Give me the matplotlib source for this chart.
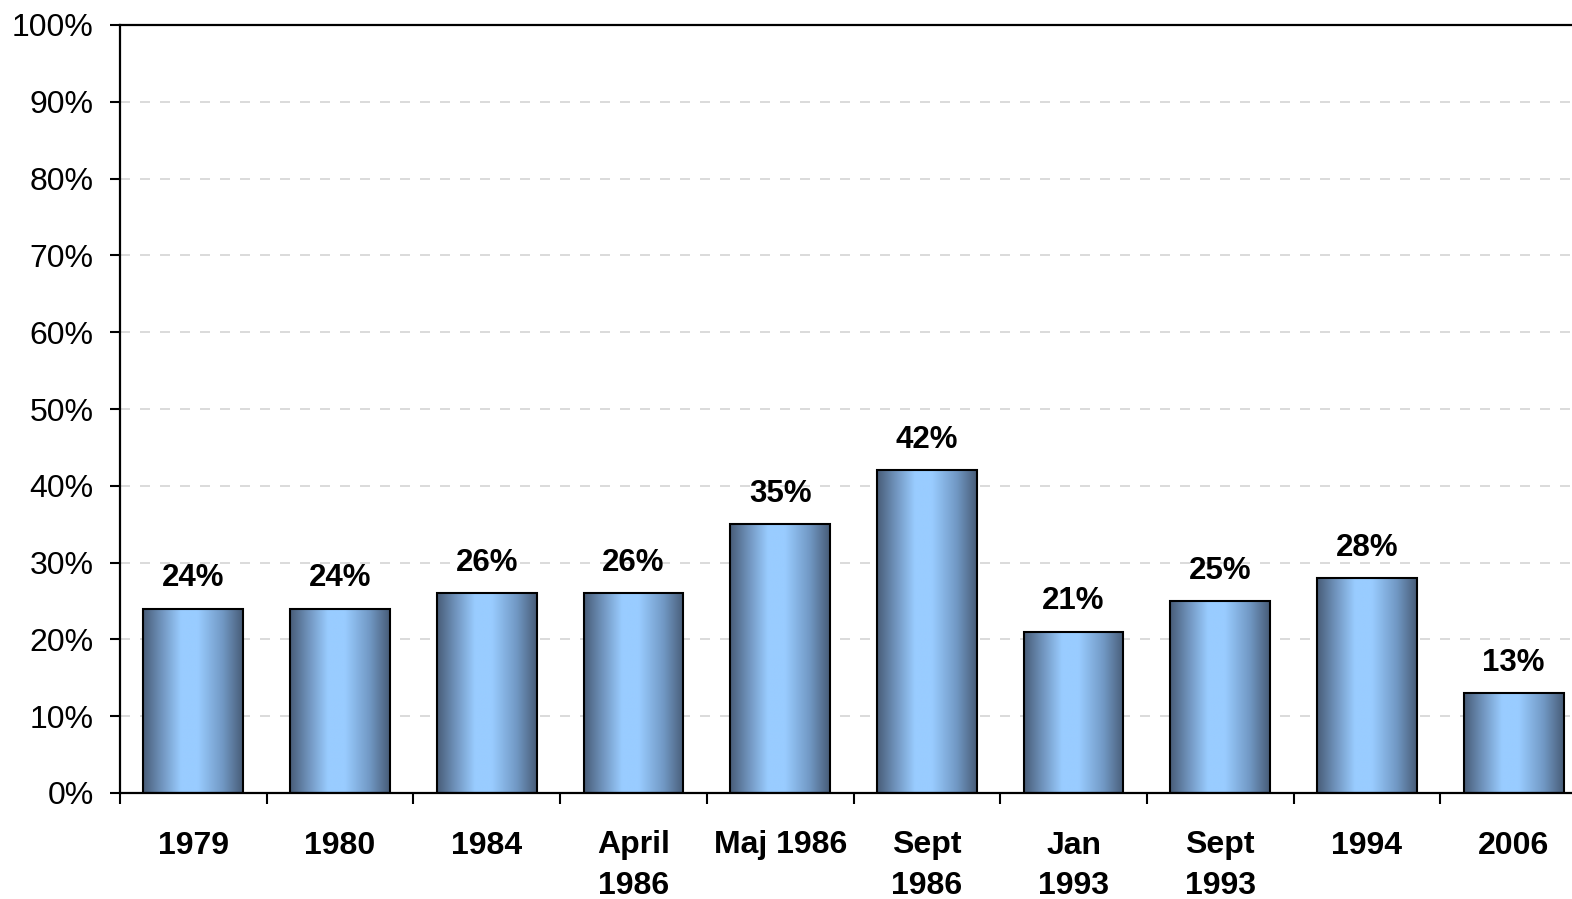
import matplotlib.pyplot as plt
import numpy as np
from matplotlib.colors import LinearSegmentedColormap
from matplotlib.ticker import FixedLocator, PercentFormatter

categories = ['1979', '1980', '1984', 'April\n1986', 'Maj 1986', 'Sept\n1986',
              'Jan\n1993', 'Sept\n1993', '1994', '2006']
values = [24, 24, 26, 26, 35, 42, 21, 25, 28, 13]

plt.rcParams['font.family'] = ['Liberation Sans', 'DejaVu Sans']

fig = plt.figure(figsize=(15.72, 8.99), dpi=100)
# axes run past the right edge, as in the reference
ax = fig.add_axes([120 / 1572, 1 - 793 / 899, 1467 / 1572, 768 / 899])

x = np.arange(len(categories))
bars = ax.bar(x, values, width=0.68, facecolor='none', edgecolor='black',
              linewidth=1.5, zorder=3)

# horizontal gradient inside each bar
cmap = LinearSegmentedColormap.from_list('bar', [
    (0.0, '#485d78'), (0.18, '#6f92bb'), (0.38, '#99ccff'),
    (0.55, '#99ccff'), (0.8, '#7198c4'), (1.0, '#485d78')])
grad = np.linspace(0, 1, 256).reshape(1, -1)
for b in bars:
    x0, w, h = b.get_x(), b.get_width(), b.get_height()
    im = ax.imshow(grad, cmap=cmap, aspect='auto', extent=[x0, x0 + w, 0, h],
                   zorder=2, interpolation='bilinear')
    im.set_clip_path(b)

for xi, v in zip(x, values):
    ax.annotate(f'{v}%', (xi, v), xytext=(0, 11), textcoords='offset points',
                ha='center', va='bottom', fontsize=22.5, fontweight='bold')

ax.set_xlim(-0.5, len(categories) - 0.5)
ax.set_ylim(0, 100)
ax.yaxis.set_major_locator(FixedLocator(np.arange(0, 101, 10)))
ax.yaxis.set_major_formatter(PercentFormatter(decimals=0))
ax.set_xticks(x)
ax.set_xticklabels(categories, fontsize=23, fontweight='bold', linespacing=1.45)
ax.set_xticks(np.arange(-0.5, len(categories), 1), minor=True)
ax.tick_params(axis='x', which='major', length=0, pad=27)
ax.tick_params(axis='x', which='minor', length=8, width=1.5, direction='out')
ax.tick_params(axis='y', length=7, width=1.5, direction='out', pad=12, labelsize=23)

ax.grid(axis='y', linestyle=(0, (6, 6)), color='#d4d4d4', linewidth=1.2, zorder=0)
ax.set_axisbelow(True)
for s in ['left', 'bottom', 'top']:
    ax.spines[s].set_linewidth(1.6)
ax.spines['right'].set_visible(False)

fig.savefig('out.png', dpi=100)
